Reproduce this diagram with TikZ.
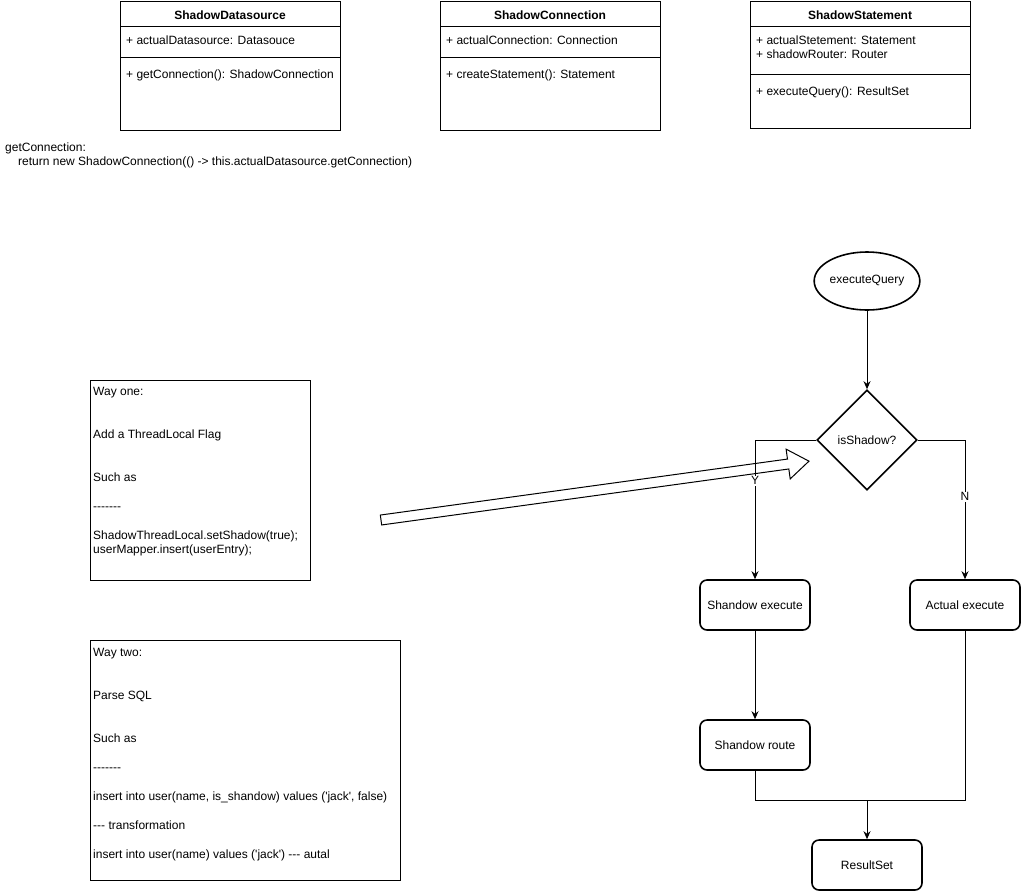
\documentclass[tikz,border=0pt]{standalone}
\usepackage{fontspec}
\setmainfont{Liberation Sans}[Ligatures=TeXOff]
\usetikzlibrary{shapes.geometric,arrows.meta}
\begin{document}
\begin{tikzpicture}[x=1pt,y=-1pt,
  every node/.style={font=\fontsize{12}{14.4}\selectfont, inner sep=0pt},
  box/.style={draw, line width=1pt, anchor=north west},
  txt/.style={anchor=base west},
  hdr/.style={anchor=base, font=\fontsize{12}{14.4}\selectfont\bfseries},
  flow/.style={draw, line width=1.6pt, rounded corners=7pt, minimum width=110, minimum height=50},
  conn/.style={line width=1pt},
  arr/.style={conn, -{Stealth[length=8pt,width=7pt]}},
  lbl/.style={fill=white, inner sep=1pt},
]
\useasboundingbox (0,0) rectangle (1022,892);

% ---- class boxes ----
\node[box, minimum width=220, minimum height=129] (sd) at (120,1) {};
\draw[conn] (sd.north west) ++(0,25) -- ++(220,0);
\draw[conn] (sd.north west) ++(0,56) -- ++(220,0);
\node[hdr] (sdh) at (230,19.5) {ShadowDatasource};
\node[txt] (sda) at (126,44.5) {+ actualDatasource: Datasouce};
\node[txt] (sdm) at (126,78.5) {+ getConnection(): ShadowConnection};

\node[box, minimum width=220, minimum height=129] (sc) at (440,1) {};
\draw[conn] (sc.north west) ++(0,25) -- ++(220,0);
\draw[conn] (sc.north west) ++(0,56) -- ++(220,0);
\node[hdr] (sch) at (550,19.5) {ShadowConnection};
\node[txt] (sca) at (446,44.5) {+ actualConnection: Connection};
\node[txt] (scm) at (446,78.5) {+ createStatement(): Statement};

\node[box, minimum width=220, minimum height=127] (ss) at (750,1) {};
\draw[conn] (ss.north west) ++(0,25) -- ++(220,0);
\draw[conn] (ss.north west) ++(0,73) -- ++(220,0);
\node[hdr] (ssh) at (860,19.5) {ShadowStatement};
\node[txt] (ssa) at (756,44.3) {+ actualStetement: Statement};
\node[txt] (ssb) at (756,58.7) {+ shadowRouter: Router};
\node[txt] (ssm) at (756,95) {+ executeQuery(): ResultSet};

% ---- getConnection note ----
\node[txt] (gc1) at (5,151.5) {getConnection:};
\node[txt] (gc2) at (18,165.5) {return new ShadowConnection(() -> this.actualDatasource.getConnection)};

% ---- way one ----
\node[box, minimum width=220, minimum height=200] (w1) at (90,380) {};
\node[txt] (w1a) at (93,395.5) {Way one:};
\node[txt] (w1b) at (93,438.7) {Add a ThreadLocal Flag};
\node[txt] (w1c) at (93,481.9) {Such as};
\node[txt] (w1d) at (93,510.7) {-------};
\node[txt] (w1e) at (93,539.5) {ShadowThreadLocal.setShadow(true);};
\node[txt] (w1f) at (93,553.9) {userMapper.insert(userEntry);};

% ---- way two ----
\node[box, minimum width=310, minimum height=240] (w2) at (90,640) {};
\node[txt] (w2a) at (93,656.5) {Way two:};
\node[txt] (w2b) at (93,699.7) {Parse SQL};
\node[txt] (w2c) at (93,742.9) {Such as};
\node[txt] (w2d) at (93,771.7) {-------};
\node[txt] (w2e) at (93,800.5) {insert into user(name, is\_shandow) values ('jack', false)};
\node[txt] (w2f) at (93,829.3) {--- transformation};
\node[txt] (w2g) at (93,858.1) {insert into user(name) values ('jack') --- autal};

% ---- hollow arrow ----
\begin{scope}[shift={(381,520)}, rotate=7.83]
  \draw[line width=1pt, fill=white] (0,-5) -- (411,-5) -- (411,-15) -- (432,0) -- (411,15) -- (411,5) -- (0,5) -- cycle;
\end{scope}

% ---- flowchart ----
\node[draw, ellipse, line width=1.6pt, minimum width=100, minimum height=58] (eq) at (867,281) {executeQuery};
\node[draw, diamond, line width=1.6pt, minimum width=100, minimum height=100] (dia) at (867,440) {isShadow?};
\node[flow] (se) at (755,605) {Shandow execute};
\node[flow] (ae) at (965,605) {Actual execute};
\node[flow] (sr) at (755,745) {Shandow route};
\node[flow] (rs) at (867,865) {ResultSet};
\coordinate (j) at (867,800);

\draw[arr] (eq) -- (dia);
\draw[arr] (dia.west) -| node[lbl, pos=0.646] {Y} (se.north);
\draw[arr] (dia.east) -| node[lbl, pos=0.704] {N} (ae.north);
\draw[arr] (se) -- (sr);
\draw[conn] (sr.south) |- (j);
\draw[conn] (ae.south) |- (j);
\draw[arr] (j) -- (rs.north);
\end{tikzpicture}
\end{document}
